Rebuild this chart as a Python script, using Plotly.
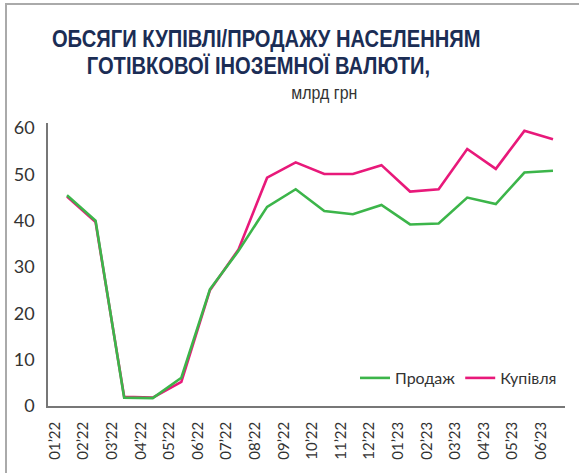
import plotly.graph_objects as go

categories = ["01’22", "02’22", "03’22", "04’22", "05’22", "06’22", "07’22", "08’22", "09’22",
              "10’22", "11’22", "12’22", "01’23", "02’23", "03’23", "04’23", "05’23", "06’23"]
sales = [45.5, 40.0, 1.8, 1.7, 6.1, 25.2, 33.5, 43.0, 46.8, 42.1, 41.4, 43.4, 39.2, 39.4, 45.0, 43.6, 50.4, 50.8]
purchases = [45.2, 39.7, 2.0, 1.8, 5.2, 25.0, 33.8, 49.3, 52.6, 50.1, 50.1, 52.0, 46.3, 46.8, 55.5, 51.2, 59.4, 57.6]
y_ticks = [0, 10, 20, 30, 40, 50, 60]

GREEN = "#3cb54a"
PINK = "#e8197a"
NAVY = "#1b2d55"
TXT = "#333333"

W, H = 579, 473
ML, MR, MT, MB = 48, 14, 123, 67
pw, ph = W - ML - MR, H - MT - MB

fig = go.Figure()
x_idx = list(range(len(categories)))
fig.add_trace(go.Scatter(x=x_idx, y=purchases, mode="lines", name="Купівля",
                         line=dict(color=PINK, width=2.6), legendrank=2))
fig.add_trace(go.Scatter(x=x_idx, y=sales, mode="lines", name="Продаж",
                         line=dict(color=GREEN, width=2.6), legendrank=1))

def px_x(p):
    return (p - ML) / pw

def px_y(p):
    return (H - MB - p) / ph

shapes = [
    dict(type="line", xref="paper", yref="paper", x0=px_x(6), x1=px_x(6), y0=px_y(4), y1=px_y(H + 5),
         line=dict(color="#aaaaaa", width=2)),
    dict(type="line", xref="paper", yref="paper", x0=px_x(5), x1=px_x(W + 5), y0=px_y(4), y1=px_y(4),
         line=dict(color="#aaaaaa", width=2)),
]

TITLE_FONT = "Liberation Sans, Arial, sans-serif"
annotations = [
    dict(text="<b>ОБСЯГИ КУПІВЛІ/ПРОДАЖУ НАСЕЛЕННЯМ</b>", x=px_x(266), y=px_y(39), xref="paper", yref="paper",
         showarrow=False, xanchor="center", yanchor="middle",
         font=dict(family=TITLE_FONT, size=24, color=NAVY)),
    dict(text="<b>ГОТІВКОВОЇ ІНОЗЕМНОЇ ВАЛЮТИ,</b>", x=px_x(258), y=px_y(65), xref="paper", yref="paper",
         showarrow=False, xanchor="center", yanchor="middle",
         font=dict(family=TITLE_FONT, size=24, color=NAVY)),
    dict(text="млрд грн", x=px_x(324), y=px_y(93), xref="paper", yref="paper",
         showarrow=False, xanchor="center", yanchor="middle",
         font=dict(family=TITLE_FONT, size=19, color=TXT)),
]

fig.update_layout(
    width=W, height=H,
    margin=dict(l=ML, r=MR, t=MT, b=MB, pad=0),
    paper_bgcolor="white", plot_bgcolor="white",
    showlegend=True,
    legend=dict(orientation="h", x=px_x(562), y=px_y(378), xanchor="right", yanchor="middle",
                font=dict(family="Lato, sans-serif", size=16, color=TXT), itemwidth=30,
                bgcolor="rgba(0,0,0,0)", traceorder="normal"),
    shapes=shapes,
    annotations=annotations,
    xaxis=dict(range=[-0.664, 17.42], tickmode="array", tickvals=x_idx, ticktext=categories,
               tickangle=-90, showgrid=False, zeroline=False, showline=True, linecolor="#777777",
               linewidth=1.5, ticks="", ticklabelshift=-12, ticklabelstandoff=8,
               tickfont=dict(family="Lato, sans-serif", size=15, color=TXT)),
    yaxis=dict(range=[0, 61.1], tickmode="array", tickvals=y_ticks, showgrid=False, zeroline=False,
               showline=True, linecolor="#777777", linewidth=1.5, ticks="", ticklabelstandoff=8,
               tickfont=dict(family="Lato, sans-serif", size=18, color=TXT)),
)

post = """
document.body.style.margin='0';
var gd = document.getElementById('{plot_id}');
gd.querySelectorAll('.annotation-text-g text').forEach(function(t){
  t.style.transformBox='fill-box';
  t.style.transformOrigin='center';
  t.style.transform='scaleX(0.84)';
});
"""

fig.write_html("out.html", config={"displayModeBar": False}, post_script=post)
